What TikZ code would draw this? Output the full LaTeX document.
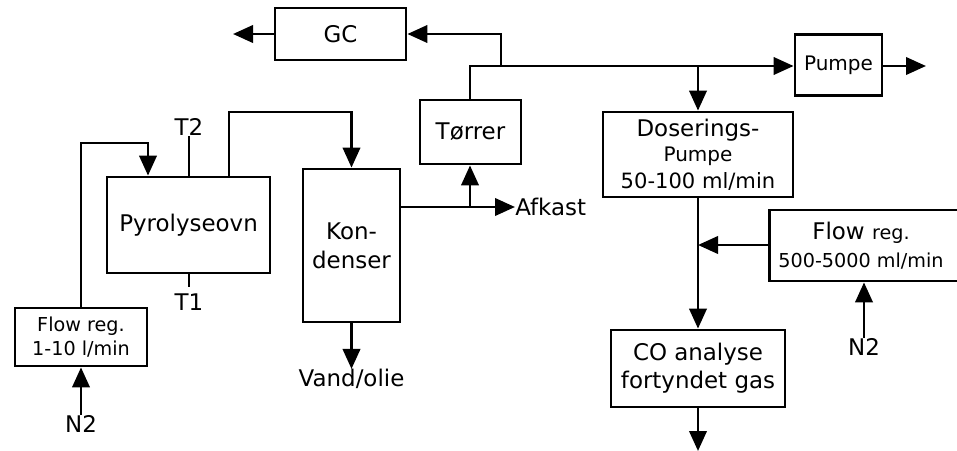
\documentclass[tikz,border=0pt]{standalone}
\usepackage{fontspec}
\setmainfont{DejaVu Sans}
\usetikzlibrary{arrows.meta}
\begin{document}
\begin{tikzpicture}[x=0.75pt,y=-0.75pt,
  box/.style={draw,line width=2.1pt,inner sep=0pt,align=center,font=\fontsize{17.2}{21}\selectfont},
  lbl/.style={inner sep=0pt,font=\fontsize{17.2}{21}\selectfont},
  conn/.style={line width=2.1pt},
  arr/.style={line width=2.1pt,-{Triangle[length=15pt,width=13pt]}},
  sm/.style={font=\fontsize{14.4}{18}\selectfont}]
\useasboundingbox (0,0) rectangle (957,450);
% boxes
\node[box,minimum width=98.25pt,minimum height=39pt] (gc) at (340.5,34) {GC};
\node[box,minimum width=65.25pt,minimum height=45.75pt] (pumpe) at (838.5,65) {\fontsize{15}{18}\selectfont Pumpe};
\node[box,minimum width=75.75pt,minimum height=48pt] (torrer) at (470.5,132) {Tørrer};
\node[box,minimum width=142.5pt,minimum height=63.75pt] (dos) at (698,154.5)
  {Doserings-\\[-2pt]{\fontsize{15}{17}\selectfont Pumpe}\\[-1pt]{\fontsize{15.8}{19}\selectfont 50-100 ml/min}};
\node[box,minimum width=72.75pt,minimum height=114.75pt] (kond) at (351.5,245.5) {Kon-\\[1pt]denser};
\node[box,minimum width=122.25pt,minimum height=72pt] (pyro) at (188.5,225) {Pyrolyseovn};
\node[box,minimum width=99pt,minimum height=43.5pt,sm] (flow1) at (81,337) {Flow reg.\\1-10 l/min};
\node[box,minimum width=146.25pt,minimum height=53.25pt] (flow2) at (867,245.5)
  {\hspace*{-9pt}Flow {\fontsize{14.4}{18}\selectfont reg.}\\{\fontsize{14.4}{18}\selectfont\hspace*{-9pt}500-5000 ml/min}};
\node[box,minimum width=130.5pt,minimum height=57.75pt] (co) at (698,368.5) {CO analyse\\fortyndet gas};
% labels
\node[lbl] (t2) at (189,127) {T2};
\node[lbl] (t1) at (189,302) {T1};
\node[lbl,anchor=west] (afk) at (515,207) {Afkast};
\node[lbl] (vand) at (351.5,379) {Vand/olie};
\node[lbl] (n2a) at (81,424) {N2};
\node[lbl] (n2b) at (864,347) {N2};
% coordinates
\coordinate (gcout) at (233,34);
\coordinate (jtop) at (470,66);
\coordinate (jgc) at (501,66);
\coordinate (jdos) at (698,66);
\coordinate (pout) at (926,66);
\coordinate (jaf) at (470,207);
\coordinate (jn) at (698,245);
\coordinate (coout) at (698,451);
% connectors
\draw[arr] (gc.west) -- (gcout);
\draw[arr] (jgc) |- (gc.east);
\draw[arr] (torrer.north -| jtop) -- (jtop) -- (jtop -| pumpe.west);
\draw[arr] (jdos) -- (dos.north);
\draw[arr] (pumpe.east |- pout) -- (pout);
\draw[conn] (kond.east |- jaf) -- (jaf);
\draw[arr] (jaf) -- (afk.west);
\draw[arr] (jaf) -- (torrer.south -| jaf);
\draw[arr] (pyro.north -| 229,0) |- (351.5,112) -- (kond.north);
\draw[arr] (flow1.north) |- (148,143) -- (pyro.north -| 148,0);
\draw[conn] (pyro.north -| t2) -- (t2.south);
\draw[conn] (pyro.south -| t1) -- (189,287);
\draw[arr] (n2a.north) -- (flow1.south);
\draw[arr] (kond.south) -- (vand.north);
\draw[conn] (dos.south) -- (jn);
\draw[arr] (jn) -- (co.north);
\draw[arr] (flow2.west |- jn) -- (jn);
\draw[arr] (n2b.north) -- (flow2.south -| n2b);
\draw[arr] (co.south) -- (coout);
\end{tikzpicture}
\end{document}
